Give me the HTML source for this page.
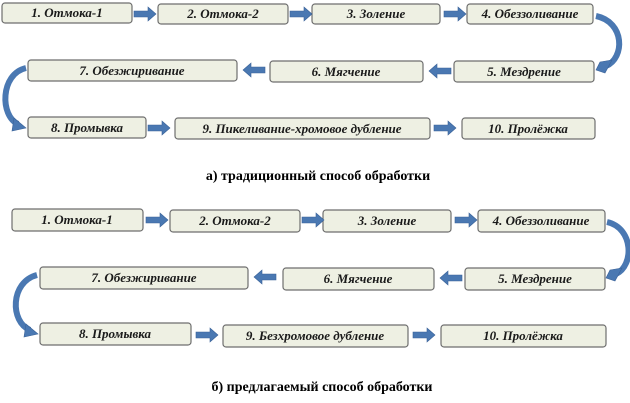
<!DOCTYPE html>
<html><head><meta charset="utf-8"><style>
html,body{margin:0;padding:0;background:#fff;width:630px;height:403px;overflow:hidden}
svg text{font-family:"Liberation Serif",serif;font-weight:bold}
.b{fill:#eef0e3;stroke:#6e6e6e;stroke-width:1.2}
.t{font-style:italic;font-size:13px;fill:#1a1a1a}
.ar{fill:#4a78b2;stroke:#3a6298;stroke-width:0.6}
.cv{fill:none;stroke:#4a78b2;stroke-width:6}
</style></head><body>
<svg width="630" height="403" xmlns="http://www.w3.org/2000/svg" font-family="Liberation Serif, serif">
<defs>
<polygon id="ra" points="0,-3 14,-3 14,-7 22,0 14,7 14,3 0,3"/>
<polygon id="la" points="22,-3 8,-3 8,-7 0,0 8,7 8,3 22,3"/>
</defs>
<rect class="b" x="2" y="3" width="130" height="20" rx="3"/><text class="t" x="67" y="17" text-anchor="middle">1. Отмока-1</text>
<rect class="b" x="158" y="4" width="130" height="20" rx="3"/><text class="t" x="223" y="18" text-anchor="middle">2. Отмока-2</text>
<rect class="b" x="312" y="4" width="128" height="20" rx="3"/><text class="t" x="376" y="18" text-anchor="middle">3. Золение</text>
<rect class="b" x="467" y="4" width="126" height="20" rx="3"/><text class="t" x="530" y="18" text-anchor="middle">4. Обеззоливание</text>
<use href="#ra" class="ar" x="134" y="14"/><use href="#ra" class="ar" x="290" y="14"/><use href="#ra" class="ar" x="444" y="14"/>

<rect class="b" x="28" y="60" width="209" height="21" rx="3"/><text class="t" x="132" y="75" text-anchor="middle">7. Обезжиривание</text>
<rect class="b" x="270" y="61" width="153" height="21" rx="3"/><text class="t" x="346" y="76" text-anchor="middle">6. Мягчение</text>
<rect class="b" x="454" y="61" width="140" height="21" rx="3"/><text class="t" x="524" y="76" text-anchor="middle">5. Мездрение</text>
<use href="#la" class="ar" x="243" y="70"/><use href="#la" class="ar" x="429" y="71"/>

<rect class="b" x="28" y="117" width="118" height="21" rx="3"/><text class="t" x="87" y="132" text-anchor="middle">8. Промывка</text>
<rect class="b" x="175" y="118" width="255" height="21" rx="3"/><text class="t" x="302" y="133" text-anchor="middle">9. Пикеливание-хромовое дубление</text>
<rect class="b" x="462" y="118" width="133" height="21" rx="3"/><text class="t" x="528" y="133" text-anchor="middle">10. Пролёжка</text>
<use href="#ra" class="ar" x="148" y="128"/><use href="#ra" class="ar" x="434" y="128"/>

<path class="cv" d="M596 16 C625 22 625 58 606 66"/><polygon class="ar" points="600,62 612,60 605,73 596,70"/>
<path class="cv" d="M26 68 C0 74 0 116 18 124"/><polygon class="ar" points="14,118 26,128 12,131"/>

<text x="318" y="180" text-anchor="middle" font-size="14">а) традиционный  способ обработки</text>

<rect class="b" x="12" y="209" width="131" height="22" rx="3"/><text class="t" x="77" y="224" text-anchor="middle">1. Отмока-1</text>
<rect class="b" x="170" y="210" width="130" height="22" rx="3"/><text class="t" x="235" y="225" text-anchor="middle">2. Отмока-2</text>
<rect class="b" x="323" y="210" width="128" height="22" rx="3"/><text class="t" x="387" y="225" text-anchor="middle">3. Золение</text>
<rect class="b" x="478" y="210" width="127" height="22" rx="3"/><text class="t" x="541" y="225" text-anchor="middle">4. Обеззоливание</text>
<use href="#ra" class="ar" x="146" y="220"/><use href="#ra" class="ar" x="302" y="220"/><use href="#ra" class="ar" x="455" y="220"/>

<rect class="b" x="40" y="267" width="208" height="22" rx="3"/><text class="t" x="144" y="282" text-anchor="middle">7. Обезжиривание</text>
<rect class="b" x="283" y="268" width="151" height="22" rx="3"/><text class="t" x="358" y="283" text-anchor="middle">6. Мягчение</text>
<rect class="b" x="465" y="268" width="140" height="22" rx="3"/><text class="t" x="535" y="283" text-anchor="middle">5. Мездрение</text>
<use href="#la" class="ar" x="254" y="277"/><use href="#la" class="ar" x="440" y="278"/>

<rect class="b" x="40" y="323" width="151" height="22" rx="3"/><text class="t" x="115" y="338" text-anchor="middle">8. Промывка</text>
<rect class="b" x="223" y="325" width="185" height="22" rx="3"/><text class="t" x="315" y="340" text-anchor="middle">9. Безхромовое дубление</text>
<rect class="b" x="441" y="325" width="165" height="22" rx="3"/><text class="t" x="523" y="340" text-anchor="middle">10. Пролёжка</text>
<use href="#ra" class="ar" x="196" y="335"/><use href="#ra" class="ar" x="413" y="335"/>

<path class="cv" d="M607 222 C634 228 634 266 616 274"/><polygon class="ar" points="610,270 622,268 615,281 606,278"/>
<path class="cv" d="M37 275 C10 282 10 322 30 330"/><polygon class="ar" points="26,324 38,334 24,337"/>

<text x="322" y="391" text-anchor="middle" font-size="14">б) предлагаемый способ обработки</text>
</svg>
</body></html>
